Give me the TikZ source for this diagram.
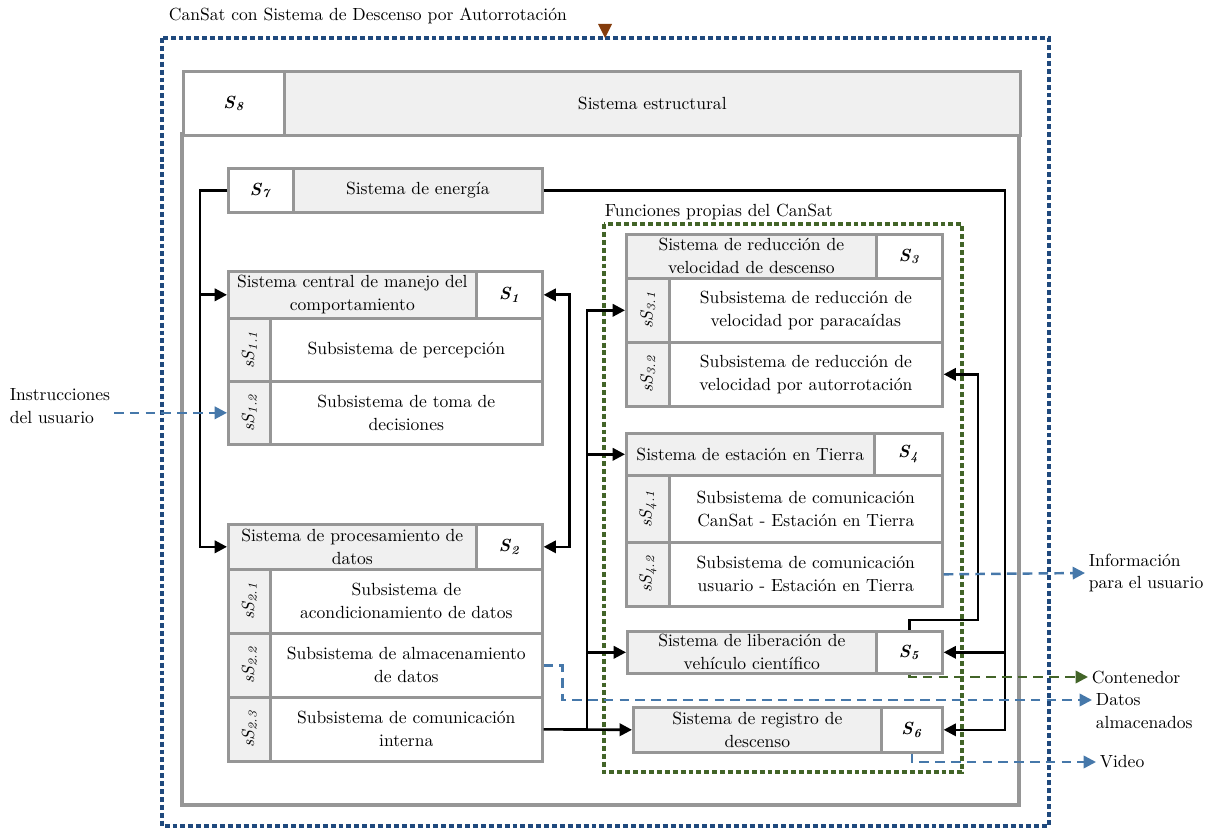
\documentclass[tikz,border=0pt]{standalone}
\usepackage{graphicx}
\usetikzlibrary{arrows.meta}
\definecolor{cellgray}{RGB}{150,150,150}
\definecolor{cellfill}{RGB}{240,240,240}
\definecolor{outerblue}{RGB}{31,73,125}
\definecolor{flowblue}{RGB}{70,120,170}
\definecolor{funcgreen}{RGB}{66,100,40}
\definecolor{markbrown}{RGB}{132,60,12}
\newcommand{\sid}[1]{\textbf{\textit{S}\textsubscript{\textit{#1}}}}
\newcommand{\ssid}[1]{\rotatebox{90}{\textit{sS\textsubscript{#1}}}}
\begin{document}
\begin{tikzpicture}[x=0.02cm, y=-0.02cm,
  sz/.style 2 args={minimum width=#1*0.02cm, minimum height=#2*0.02cm},
  cell/.style={draw=cellgray, line width=1.5pt, inner sep=1pt, anchor=north west, align=center, font=\fontsize{10}{13}\selectfont},
  title cell/.style={cell, fill=cellfill},
  text cell/.style={cell, fill=white},
  id cell/.style={cell, fill=white},
  tag cell/.style={cell, fill=cellfill},
  lbl/.style={inner sep=2pt, align=left, font=\fontsize{10}{13}\selectfont},
  wire/.style={line width=1.5pt},
  conn/.style={wire, -{Triangle[length=7pt,width=7pt]}},
  dconn/.style={wire, {Triangle[length=7pt,width=7pt]}-{Triangle[length=7pt,width=7pt]}},
  flow/.style={flowblue, line width=1.4pt, dash pattern=on 5.5pt off 3.5pt, -{Triangle[length=7pt,width=7pt]}},
  green flow/.style={flow, funcgreen},
  outer frame/.style={outerblue, line width=1.9pt, dash pattern=on 2.8pt off 1.7pt},
  func frame/.style={funcgreen, line width=1.9pt, dash pattern=on 2.8pt off 1.7pt}]
\useasboundingbox (0,0) rectangle (1211,831);
\begin{scope}
\node[lbl, anchor=west] (title) at (165,16) {CanSat con Sistema de Descenso por Autorrotación};
\draw[outer frame] (162,38) rectangle (1049,826);
\fill[markbrown] (598,24) -- (612,24) -- (605,38) -- cycle;
\draw[draw=cellgray, line width=1.8pt] (182,134) rectangle (1019,805);
\node[lbl, anchor=west] (funcs) at (601,212) {Funciones propias del CanSat};
\draw[func frame] (604,224) rectangle (962,772);
\end{scope}
\begin{scope}
\node[id cell, sz={101}{64}] (s8id) at (182,70) {\sid{8}};
\node[title cell, sz={736}{64}] (s8t) at (283,70) {Sistema estructural};
\node[id cell, sz={65}{44}] (s7id) at (227,167) {\sid{7}};
\node[title cell, sz={249}{44}] (s7t) at (292,167) {Sistema de energía};
%S1
\node[title cell, sz={248}{47}] (s1t) at (227,270) {Sistema central de manejo del\\comportamiento};
\node[id cell, sz={66}{47}] (s1id) at (475,270) {\sid{1}};
\node[tag cell, sz={42}{63}] (s11tag) at (227,317) {\ssid{1.1}};
\node[text cell, sz={272}{63}] (s11) at (269,317) {Subsistema de percepción};
\node[tag cell, sz={42}{63}] (s12tag) at (227,380) {\ssid{1.2}};
\node[text cell, sz={272}{63}] (s12) at (269,380) {Subsistema de toma de\\decisiones};
%S2
\node[title cell, sz={248}{45}] (s2t) at (227,523) {Sistema de procesamiento de\\datos};
\node[id cell, sz={66}{45}] (s2id) at (475,523) {\sid{2}};
\node[tag cell, sz={42}{64}] (s21tag) at (227,568) {\ssid{2.1}};
\node[text cell, sz={272}{64}] (s21) at (269,568) {Subsistema de\\acondicionamiento de datos};
\node[tag cell, sz={42}{64}] (s22tag) at (227,632) {\ssid{2.2}};
\node[text cell, sz={272}{64}] (s22) at (269,632) {Subsistema de almacenamiento\\de datos};
\node[tag cell, sz={42}{64}] (s23tag) at (227,696) {\ssid{2.3}};
\node[text cell, sz={272}{64}] (s23) at (269,696) {Subsistema de comunicación\\interna};
%S3
\node[title cell, sz={250}{44}] (s3t) at (625,233) {Sistema de reducción de\\velocidad de descenso};
\node[id cell, sz={66}{44}] (s3id) at (875,233) {\sid{3}};
\node[tag cell, sz={43}{64}] (s31tag) at (625,277) {\ssid{3.1}};
\node[text cell, sz={273}{64}] (s31) at (668,277) {Subsistema de reducción de\\velocidad por paracaídas};
\node[tag cell, sz={43}{64}] (s32tag) at (625,341) {\ssid{3.2}};
\node[text cell, sz={273}{64}] (s32) at (668,341) {Subsistema de reducción de\\velocidad por autorrotación};
%S4
\node[title cell, sz={248}{42}] (s4t) at (625,432) {Sistema de estación en Tierra};
\node[id cell, sz={68}{42}] (s4id) at (873,432) {\sid{4}};
\node[tag cell, sz={43}{67}] (s41tag) at (625,474) {\ssid{4.1}};
\node[text cell, sz={273}{67}] (s41) at (668,474) {Subsistema de comunicación\\CanSat - Estación en Tierra};
\node[tag cell, sz={43}{64}] (s42tag) at (625,541) {\ssid{4.2}};
\node[text cell, sz={273}{64}] (s42) at (668,541) {Subsistema de comunicación\\usuario - Estación en Tierra};
%S5, S6
\node[title cell, sz={249}{42}] (s5t) at (626,630) {Sistema de liberación de\\vehículo científico};
\node[id cell, sz={66}{42}] (s5id) at (875,630) {\sid{5}};
\node[title cell, sz={248}{45}] (s6t) at (632,706) {Sistema de registro de\\descenso};
\node[id cell, sz={61}{45}] (s6id) at (880,706) {\sid{6}};
\end{scope}
\begin{scope}
\node[lbl, anchor=west] (instr) at (6,406) {Instrucciones\\del usuario};
\node[lbl, anchor=west] (info) at (1085,573) {Información\\para el usuario};
\node[lbl, anchor=west] (cont) at (1088,677) {Contenedor};
\node[lbl, anchor=west] (datos) at (1092,711) {Datos\\almacenados};
\node[lbl, anchor=west] (video) at (1096,762) {Video};
\end{scope}
\begin{scope}
\draw[conn] (s7id.west) -- ++(-27,0) |- (s1t.west);
\draw[conn] (s7id.west) -- ++(-27,0) |- (s2t.west);
\draw[dconn] (s1id.east) -- ++(26,0) |- (s2id.east);
\coordinate (cbus) at (s23.east -| 587,0);
\draw[conn] (s23.east) -- (s6t.west);
\draw[conn] (cbus) |- (s31tag.west);
\draw[conn] (cbus) |- (s4t.west);
\draw[conn] (cbus) |- (s5t.west);
\coordinate (ebus) at (s6id.east -| 1005,0);
\draw[conn] (s7t.east) -| (ebus) -- (s6id.east);
\draw[conn] (s5id.east -| ebus) -- (s5id.east);
\coordinate (ubus) at (978,620);
\draw[conn] (s5id.north) |- (ubus) |- (s32.east);
\draw[flow] (instr.east |- s12tag.west) -- (s12tag.west);
\draw[flow] (s42.east) -- (info.west);
\draw[green flow] (s5id.south) |- (cont.west);
\draw[flow] (s22.east) -- ++(19,0) |- ([yshift=0.22cm]datos.west);
\draw[flow] (s6id.south) |- (video.west);
\end{scope}
\end{tikzpicture}
\end{document}
